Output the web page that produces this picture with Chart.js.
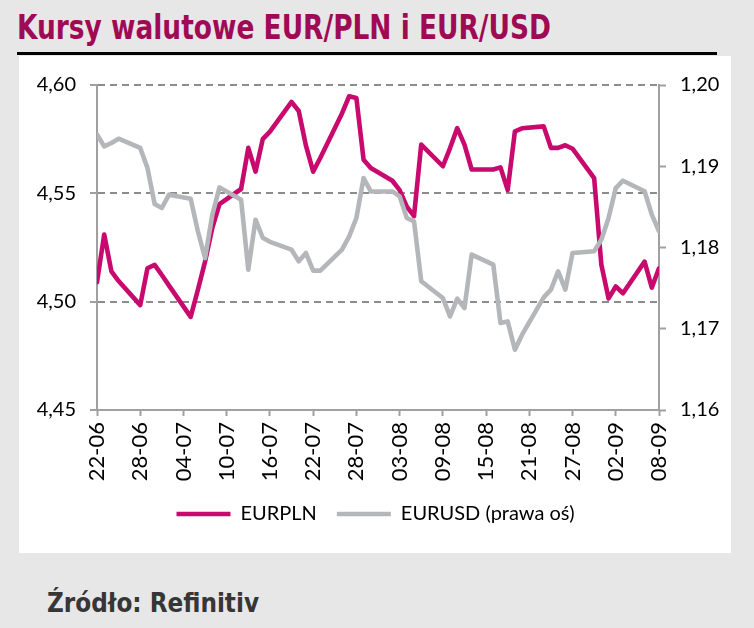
<!DOCTYPE html>
<html>
<head>
<meta charset="utf-8">
<script src="https://cdn.jsdelivr.net/npm/chart.js@4.4.1/dist/chart.umd.min.js"></script>
<style>
  html, body { margin: 0; padding: 0; }
  body { width: 754px; height: 628px; background: #e7e7e8; position: relative; overflow: hidden; }
  .hd { position: absolute; white-space: nowrap; font-family: 'DejaVu Sans Condensed', 'DejaVu Sans', sans-serif; font-weight: bold; line-height: 1; transform-origin: 0 0; }
  #title { left: 17px; top: 11px; font-size: 33px; color: #a00a55; }
  #rule { position: absolute; left: 17px; top: 52px; width: 700px; height: 3px; background: #000; }
  #panel { position: absolute; left: 19px; top: 56px; width: 712px; height: 497px; background: #fff; }
  #source { left: 47px; top: 589px; font-size: 27px; color: #363636; }
  #wrap { position: absolute; left: 20px; top: 57px; width: 711px; height: 496px; }
</style>
</head>
<body>
<div id="title" class="hd">Kursy walutowe EUR/PLN i EUR/USD</div>
<div id="rule"></div>
<div id="panel"></div>
<div id="wrap"><canvas id="c"></canvas></div>
<div id="source" class="hd">Źródło: Refinitiv</div>
<script>
// ---- data ----
const tickLabels = ['22-06','28-06','04-07','10-07','16-07','22-07','28-07','03-08','09-08','15-08','21-08','27-08','02-09','08-09'];
const dates = ['22-06','23-06','24-06','25-06','28-06','29-06','30-06','01-07','02-07',
  '05-07','06-07','07-07','08-07','09-07','12-07','13-07','14-07','15-07','16-07',
  '19-07','20-07','21-07','22-07','23-07','26-07','27-07','28-07','29-07','30-07',
  '02-08','03-08','04-08','05-08','06-08','09-08','10-08','11-08','12-08','13-08',
  '16-08','17-08','18-08','19-08','20-08','23-08','24-08','25-08','26-08','27-08',
  '30-08','31-08','01-09','02-09','03-09','06-09','07-09','08-09'];
const eurpln = [4.509,4.531,4.514,4.5095,4.4984,4.5154,4.517,4.5123,4.5074,
  4.493,4.5054,4.5185,4.534,4.545,4.552,4.571,4.560,4.575,4.5785,
  4.5922,4.588,4.572,4.560,4.5664,4.5869,4.5948,4.594,4.5655,4.5617,
  4.5558,4.5515,4.5439,4.5395,4.5725,4.5625,4.5709,4.5801,4.5725,4.561,
  4.561,4.562,4.5515,4.5786,4.580,4.5809,4.571,4.571,4.5722,4.5706,
  4.557,4.517,4.5015,4.507,4.5039,4.5185,4.5065,4.5154];
const eurusd = [1.1939,1.19245,1.19286,1.19339,1.19225,1.1898,1.18535,1.18486,1.1865,
  1.1860,1.1820,1.1787,1.1840,1.1874,1.18588,1.17727,1.18342,1.1812,1.1807,
  1.17973,1.1783,1.17932,1.17715,1.17715,1.17973,1.18138,1.18363,1.18855,1.18691,
  1.1869,1.1863,1.18363,1.18322,1.17584,1.17378,1.17153,1.1737,1.17255,1.17912,
  1.17789,1.1707,1.1709,1.16742,1.16927,1.17387,1.17481,1.17707,1.17481,1.17932,
  1.17953,1.18096,1.18363,1.18732,1.18822,1.18692,1.18404,1.182];
const leftTicks = [4.45, 4.50, 4.55, 4.60];
const rightTicks = [1.16, 1.17, 1.18, 1.19, 1.20];
const seriesNames = ['EURPLN', 'EURUSD (prawa oś)'];
const year = 2021;

// ---- helpers ----
const day0 = Date.UTC(year, 5, 22);
function dayIndex(s) { const [d, m] = s.split('-').map(Number); return Math.round((Date.UTC(year, m - 1, d) - day0) / 86400000); }
const tickDays = tickLabels.map(dayIndex);
const xs = dates.map(dayIndex);
const fmt = v => v.toFixed(2).replace('.', ',');

// fit header texts
function fitWidth(id, w) { const el = document.getElementById(id); const r = el.getBoundingClientRect().width; el.style.transform = 'scaleX(' + (w / r) + ')'; }
fitWidth('title', 534);
fitWidth('source', 212);

const AXIS = '#a0a0a0';
const FONT = { family: 'Lato, "Open Sans", sans-serif', size: 20 };
const XFONT = { family: 'Lato, "Open Sans", sans-serif', size: 22 };

new Chart(document.getElementById('c'), {
  type: 'line',
  data: {
    datasets: [
      { label: seriesNames[0], data: xs.map((x, i) => ({ x, y: eurpln[i] })), yAxisID: 'y', order: 1,
        borderColor: '#c8096e', backgroundColor: '#c8096e', borderWidth: 4.6, pointRadius: 0, tension: 0,
        borderJoinStyle: 'round', borderCapStyle: 'round' },
      { label: seriesNames[1], data: xs.map((x, i) => ({ x, y: eurusd[i] })), yAxisID: 'y1', order: 0,
        borderColor: '#b4b6b9', backgroundColor: '#b4b6b9', borderWidth: 4.6, pointRadius: 0, tension: 0,
        borderJoinStyle: 'round', borderCapStyle: 'round' }
    ]
  },
  options: {
    responsive: true, maintainAspectRatio: false, animation: false, devicePixelRatio: 1,
    layout: { padding: { top: 28, bottom: 19, left: 0, right: 0 } },
    plugins: {
      tooltip: { enabled: false },
      legend: {
        position: 'bottom',
        labels: {
          usePointStyle: true, pointStyle: 'line', pointStyleWidth: 54,
          font: FONT, color: '#000', padding: 20,
          sort: (a, b) => a.datasetIndex - b.datasetIndex
        }
      }
    },
    scales: {
      x: {
        type: 'linear', min: tickDays[0], max: tickDays[tickDays.length - 1],
        afterBuildTicks: s => { s.ticks = tickDays.map(v => ({ value: v })); },
        afterFit: s => { s.height = 74; },
        ticks: { autoSkip: false, minRotation: 90, maxRotation: 90, padding: 6, color: '#000', font: XFONT,
          callback: v => tickLabels[tickDays.indexOf(v)] },
        grid: { drawOnChartArea: false, tickLength: 6, tickColor: AXIS, tickWidth: 2 },
        border: { color: AXIS, width: 2 }
      },
      y: {
        position: 'left', min: leftTicks[0], max: leftTicks[leftTicks.length - 1],
        afterBuildTicks: s => { s.ticks = leftTicks.map(v => ({ value: v })); },
        afterFit: s => { s.width = 77; },
        ticks: { padding: 14, color: '#000', font: FONT, callback: v => fmt(v) },
        grid: { color: c => (c.tick && c.tick.value === leftTicks[0]) ? 'rgba(0,0,0,0)' : '#8c8c8c',
          lineWidth: 2, tickLength: 7, tickColor: AXIS, tickWidth: 2 },
        border: { color: AXIS, width: 2, dash: [7, 5] }
      },
      y1: {
        position: 'right', min: rightTicks[0], max: rightTicks[rightTicks.length - 1],
        afterBuildTicks: s => { s.ticks = rightTicks.map(v => ({ value: v })); },
        afterFit: s => { s.width = 72; },
        ticks: { padding: 14, color: '#000', font: FONT, callback: v => fmt(v) },
        grid: { drawOnChartArea: false, tickLength: 7, tickColor: AXIS, tickWidth: 2 },
        border: { color: AXIS, width: 2 }
      }
    }
  }
});
</script>
</body>
</html>
